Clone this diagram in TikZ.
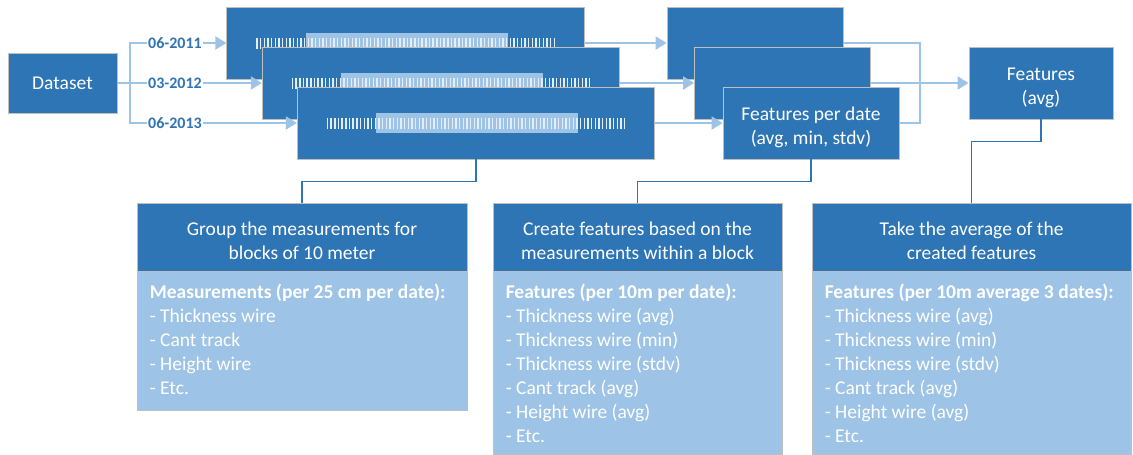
\documentclass[tikz,border=0pt]{standalone}
\usepackage{fontspec}
\setmainfont{Carlito}
\usetikzlibrary{arrows.meta,positioning}

\definecolor{bluedark}{HTML}{2E75B6}
\definecolor{bluelight}{HTML}{9DC3E6}
\definecolor{boxedge}{HTML}{BFBFBF}
\definecolor{tickline}{HTML}{E3EEF9}

\newcommand{\headroom}{\rule{0pt}{22pt}}

\tikzset{
	stepbox/.style={draw=boxedge, line width=0.8pt, fill=bluedark, text=white,
		inner sep=0pt, align=center, font=\fontsize{19.5}{24}\selectfont},
	listbox/.style={draw=boxedge, line width=0.8pt, fill=bluelight, inner sep=0pt,
		anchor=north},
	listtext/.style={text=white, inner sep=0pt, align=left,
		font=\fontsize{19.5}{24}\selectfont},
	datelabel/.style={fill=white, text=bluedark, inner sep=1pt,
		font=\fontsize{16}{18}\selectfont\bfseries},
	feedline/.style={draw=bluelight, line width=2pt},
	feed/.style={feedline, -{Triangle[length=11pt,width=13pt]}},
	link/.style={draw=bluedark, line width=1.6pt},
}

\newcommand{\tickstrip}[1]{%
	\begin{scope}[shift={(#1.center)}]
		\fill[bluelight] (-100,-10) rectangle (102,10);
		\foreach \k in {0,...,81}
			\draw[tickline, line width=1.4pt] (-148.5+\k*3.67,-5.5) -- ++(0,11);
	\end{scope}}

\begin{document}
\begin{tikzpicture}[x=1pt,y=-1pt]
	\useasboundingbox (0,0) rectangle (1133,455);

	\node[stepbox, minimum width=109, minimum height=60] (dataset) at (62.5,83) {Dataset};

	% measurements per date
	\node[stepbox, minimum width=357.5, minimum height=72] (raw1) at (405.5,43) {};
	\tickstrip{raw1}
	\node[stepbox, minimum width=357.5, minimum height=72] (raw2) at (441,83) {};
	\tickstrip{raw2}
	\node[stepbox, minimum width=357.5, minimum height=72] (raw3) at (476,123) {};
	\tickstrip{raw3}

	% features per date
	\node[stepbox, minimum width=176, minimum height=72] (featA) at (755,43) {};
	\node[stepbox, minimum width=176, minimum height=72] (featB) at (782.5,83) {};
	\node[stepbox, minimum width=176, minimum height=72] (featC) at (811,123)
		{\headroom Features per date\\(avg, min, stdv)};
	\node[stepbox, minimum width=144, minimum height=72] (featavg) at (1041,83)
		{\headroom Features\\(avg)};

	\node[datelabel] (d1) at (175,43) {06-2011};
	\node[datelabel] (d2) at (175,83) {03-2012};
	\node[datelabel] (d3) at (175,123) {06-2013};
	\coordinate (fork) at (130,83);
	\coordinate (merge) at (920,83);

	\draw[feedline] (dataset.east) -- (d2.west);
	\draw[feedline] (fork) |- (d1.west);
	\draw[feedline] (fork) |- (d3.west);
	\draw[feed] (d1.east) -- (raw1.west);
	\draw[feed] (d2.east) -- (raw2.west);
	\draw[feed] (d3.east) -- (raw3.west);

	\draw[feed] (raw1.east) -- (featA.west);
	\draw[feed] (raw2.east) -- (featB.west);
	\draw[feed] (raw3.east) -- (featC.west);
	\draw[feedline] (featA.east) -| (merge) |- (featC.east);
	\draw[feed] (featB.east) -- (featavg.west);

	% explanation boxes
	\node[stepbox, minimum width=330, minimum height=68] (grouphead) at (302,237)
		{\headroom Group the measurements for\\blocks of 10 meter};
	\node[listbox, minimum width=330, minimum height=139] (groupbody) at (grouphead.south) {};
	\node[listtext, below right=12.5pt and 13pt of groupbody.north west] (grouplist)
		{\textbf{Measurements (per 25 cm per date):}\\
		- Thickness wire\\- Cant track\\- Height wire\\- Etc.};

	\node[stepbox, minimum width=289, minimum height=68] (createhead) at (637.5,237)
		{\headroom Create features based on the\\measurements within a block};
	\node[listbox, minimum width=289, minimum height=183] (createbody) at (createhead.south) {};
	\node[listtext, below right=12.5pt and 13pt of createbody.north west] (createlist)
		{\textbf{Features (per 10m per date):}\\
		- Thickness wire (avg)\\- Thickness wire (min)\\- Thickness wire (stdv)\\
		- Cant track (avg)\\- Height wire (avg)\\- Etc.};

	\node[stepbox, minimum width=319, minimum height=68] (takehead) at (971.5,237)
		{\headroom Take the average of the\\created features};
	\node[listbox, minimum width=319, minimum height=183] (takebody) at (takehead.south) {};
	\node[listtext, below right=12.5pt and 13pt of takebody.north west] (takelist)
		{\textbf{Features (per 10m average 3 dates):}\\
		- Thickness wire (avg)\\- Thickness wire (min)\\- Thickness wire (stdv)\\
		- Cant track (avg)\\- Height wire (avg)\\- Etc.};

	\draw[link] (raw3.south) -- ++(0,22) -| (grouphead.north);
	\draw[link] (featC.south) -- ++(0,22) -| (createhead.north);
	\draw[link] (featavg.south) -- ++(0,22) -| (takehead.north);
\end{tikzpicture}
\end{document}
